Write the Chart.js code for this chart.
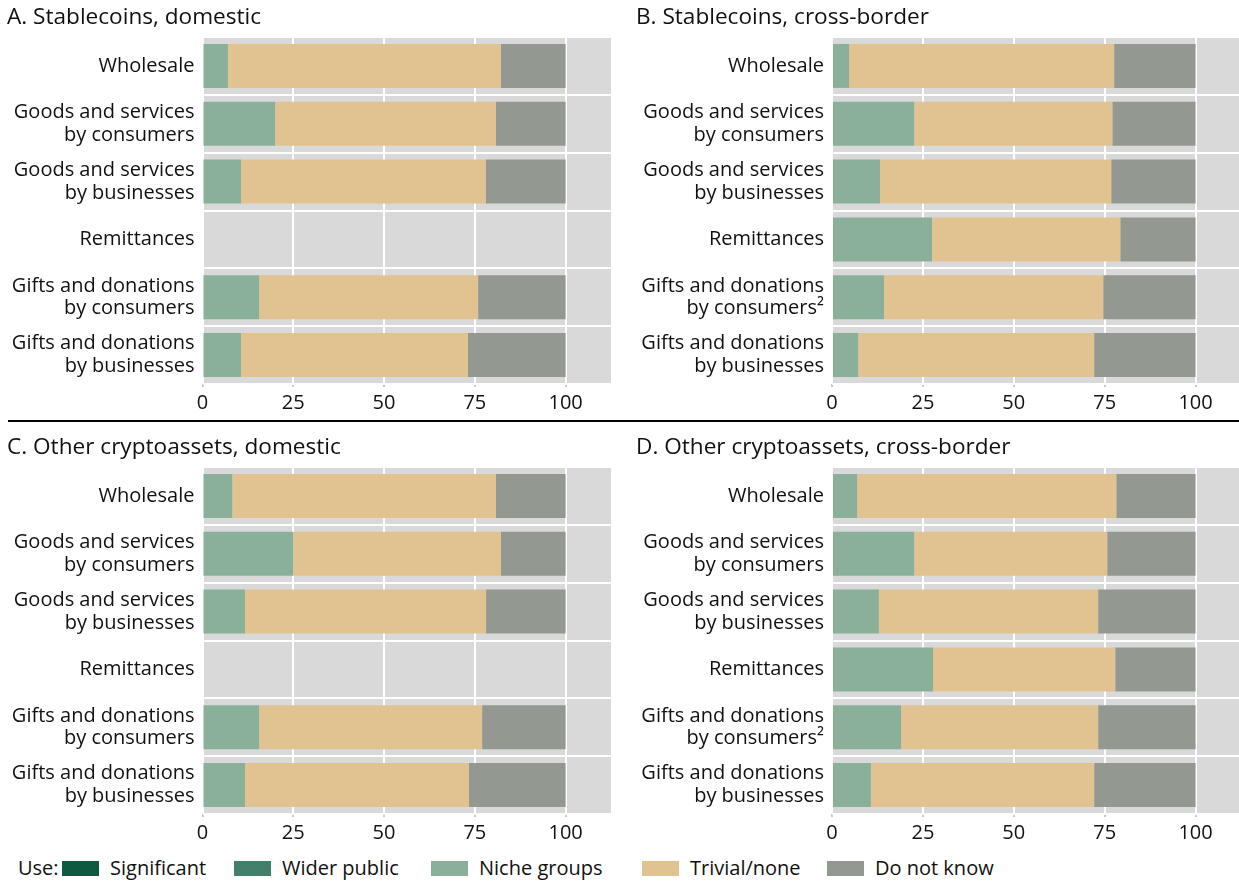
<!DOCTYPE html>
<html>
<head>
<meta charset="utf-8">
<script src="https://cdn.jsdelivr.net/npm/chart.js@4"></script>
<style>
  html, body { margin: 0; padding: 0; background: #fff; }
  body { width: 1239px; height: 882px; overflow: hidden; position: relative;
         font-family: "Open Sans", "Noto Sans", sans-serif; color: #111; }
  canvas.panel { position: absolute; }
  #rule { position: absolute; left: 8px; top: 420px; width: 1231px; height: 2px; background: #000; }
  #legend { position: absolute; left: 0; top: 854px; width: 1239px; height: 28px; font-size: 20px; }
  #legend .lab { position: absolute; top: 0; line-height: 28px; white-space: nowrap; }
  #legend .box { position: absolute; top: 7px; width: 37px; height: 15px; }
</style>
</head>
<body>
<canvas id="panelA" class="panel" width="604" height="420" style="left:7px;top:0px"></canvas>
<canvas id="panelB" class="panel" width="605" height="420" style="left:636px;top:0px"></canvas>
<div id="rule"></div>
<canvas id="panelC" class="panel" width="604" height="420" style="left:7px;top:430px"></canvas>
<canvas id="panelD" class="panel" width="605" height="420" style="left:636px;top:430px"></canvas>
<div id="legend"></div>

<script>
// ---- Categories (rows, top to bottom) ----
const categoriesDomestic = [
  ["Wholesale"],
  ["Goods and services", "by consumers"],
  ["Goods and services", "by businesses"],
  ["Remittances"],
  ["Gifts and donations", "by consumers"],
  ["Gifts and donations", "by businesses"]
];
const categoriesCrossBorder = [
  ["Wholesale"],
  ["Goods and services", "by consumers"],
  ["Goods and services", "by businesses"],
  ["Remittances"],
  ["Gifts and donations", "by consumers\u00B2"],
  ["Gifts and donations", "by businesses"]
];

// ---- Series names and colours ----
const seriesNames  = ["Significant", "Wider public", "Niche groups", "Trivial/none", "Do not know"];
const seriesColors = ["#0e5940", "#43806b", "#8bb09a", "#e1c392", "#939991"];

// ---- Panel titles ----
const panelTitles = [
  "A. Stablecoins, domestic",
  "B. Stablecoins, cross-border",
  "C. Other cryptoassets, domestic",
  "D. Other cryptoassets, cross-border"
];

// ---- Shares of respondents, per cent ----
// A. Stablecoins, domestic (no remittances row)
const stableDomSignificant = [0, 0, 0, null, 0, 0];
const stableDomWider       = [0, 0, 0, null, 0, 0];
const stableDomNiche       = [7.0, 20.0, 10.6, null, 15.6, 10.6];
const stableDomTrivial     = [75.2, 60.8, 67.4, null, 60.3, 62.5];
const stableDomUnknown     = [17.8, 19.2, 22.0, null, 24.1, 26.9];

// B. Stablecoins, cross-border
const stableXbSignificant = [0, 0, 0, 0, 0, 0];
const stableXbWider       = [0, 0, 0, 0, 0, 0];
const stableXbNiche       = [4.7, 22.6, 13.2, 27.5, 14.3, 7.2];
const stableXbTrivial     = [72.9, 54.5, 63.6, 51.8, 60.3, 64.9];
const stableXbUnknown     = [22.4, 22.9, 23.2, 20.7, 25.4, 27.9];

// C. Other cryptoassets, domestic (no remittances row)
const otherDomSignificant = [0, 0, 0, null, 0, 0];
const otherDomWider       = [0, 0, 0, null, 0, 0];
const otherDomNiche       = [8.2, 25.0, 11.7, null, 15.6, 11.7];
const otherDomTrivial     = [72.6, 57.2, 66.4, null, 61.4, 61.7];
const otherDomUnknown     = [19.2, 17.8, 21.9, null, 23.0, 26.6];

// D. Other cryptoassets, cross-border
const otherXbSignificant = [0, 0, 0, 0, 0, 0];
const otherXbWider       = [0, 0, 0, 0, 0, 0];
const otherXbNiche       = [6.9, 22.6, 12.9, 27.8, 19.0, 10.7];
const otherXbTrivial     = [71.3, 53.1, 60.3, 50.1, 54.2, 61.4];
const otherXbUnknown     = [21.8, 24.3, 26.8, 22.1, 26.8, 27.9];

// ---- X-axis tick values ----
const xTickValues = [0, 25, 50, 75, 100];

// ---------------------------------------------------------------
const FONT = '"Open Sans", "Noto Sans", sans-serif';
const TEXT = '#111111';
const PLOT_BG = '#d9d9d9';

// grey panel behind the bars
const plotBackground = {
  id: 'plotBackground',
  beforeDraw(chart) {
    const { ctx, chartArea: a } = chart;
    ctx.save();
    ctx.fillStyle = PLOT_BG;
    ctx.fillRect(a.left, a.top, a.right - a.left, a.bottom - a.top);
    ctx.restore();
  }
};

function makePanel(canvasId, title, labels, seriesData, yAxisWidth) {
  const datasets = seriesData.map((values, i) => ({
    label: seriesNames[i],
    data: values,
    backgroundColor: seriesColors[i],
    borderWidth: 0,
    barPercentage: 0.76,
    categoryPercentage: 1.0
  }));

  return new Chart(document.getElementById(canvasId), {
    type: 'bar',
    data: { labels: labels, datasets: datasets },
    plugins: [plotBackground],
    options: {
      indexAxis: 'y',
      responsive: false,
      animation: false,
      devicePixelRatio: 1,
      layout: { padding: { left: 0, right: 0, top: 0, bottom: 1 } },
      plugins: {
        legend: { display: false },
        tooltip: { enabled: false },
        title: {
          display: true,
          text: title,
          align: 'start',
          color: TEXT,
          font: { family: FONT, size: 22.6, weight: 'normal', lineHeight: 1.2 },
          padding: { top: 4, bottom: 5.9 }
        }
      },
      scales: {
        x: {
          stacked: true,
          min: 0,
          max: 112.5,
          afterBuildTicks(scale) {
            scale.ticks = xTickValues.map(v => ({ value: v }));
          },
          border: { display: false },
          grid: {
            color: '#ffffff',
            lineWidth: 2,
            drawTicks: true,
            tickLength: 3,
            tickColor: '#c8c8c8'
          },
          ticks: {
            color: TEXT,
            padding: 4,
            maxRotation: 0,
            font: { family: FONT, size: 20, lineHeight: 1.2 }
          }
        },
        y: {
          stacked: true,
          afterFit(scale) { scale.width = yAxisWidth; },
          border: { display: false },
          grid: {
            color: '#ffffff',
            lineWidth: 2,
            offset: true,
            drawTicks: false
          },
          ticks: {
            color: TEXT,
            padding: 8,
            font: { family: FONT, size: 20, lineHeight: 1.13 }
          }
        }
      }
    }
  });
}

makePanel('panelA', panelTitles[0], categoriesDomestic,
  [stableDomSignificant, stableDomWider, stableDomNiche, stableDomTrivial, stableDomUnknown], 195.5);
makePanel('panelB', panelTitles[1], categoriesCrossBorder,
  [stableXbSignificant, stableXbWider, stableXbNiche, stableXbTrivial, stableXbUnknown], 196);
makePanel('panelC', panelTitles[2], categoriesDomestic,
  [otherDomSignificant, otherDomWider, otherDomNiche, otherDomTrivial, otherDomUnknown], 195.5);
makePanel('panelD', panelTitles[3], categoriesCrossBorder,
  [otherXbSignificant, otherXbWider, otherXbNiche, otherXbTrivial, otherXbUnknown], 196);

// ---- shared legend along the bottom ----
const legendPrefixLeft = 18;
const legendBoxLefts  = [62, 234, 431, 642, 827];
const legendTextGap   = 48;
const legend = document.getElementById('legend');
const prefix = document.createElement('span');
prefix.className = 'lab';
prefix.style.left = legendPrefixLeft + 'px';
prefix.textContent = 'Use:';
legend.appendChild(prefix);
seriesNames.forEach((name, i) => {
  const box = document.createElement('span');
  box.className = 'box';
  box.style.left = legendBoxLefts[i] + 'px';
  box.style.background = seriesColors[i];
  legend.appendChild(box);
  const lab = document.createElement('span');
  lab.className = 'lab';
  lab.style.left = (legendBoxLefts[i] + legendTextGap) + 'px';
  lab.textContent = name;
  legend.appendChild(lab);
});
</script>
</body>
</html>
